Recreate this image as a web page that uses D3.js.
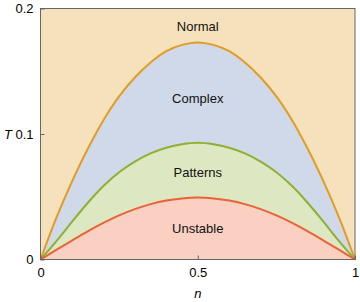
<!DOCTYPE html>
<html><head><meta charset="utf-8">
<script src="https://cdn.jsdelivr.net/npm/d3@7"></script>
<style>body{margin:0;background:#fff}svg{display:block}text{font-family:"Liberation Sans",Arial,sans-serif}</style>
</head><body>
<svg id="c" width="360" height="302"></svg>
<script>
const nVals = [0,0.05,0.1,0.15,0.2,0.25,0.3,0.35,0.4,0.45,0.5,0.55,0.6,0.65,0.7,0.75,0.8,0.85,0.9,0.95,1];
const normalBoundary = [0,0.033,0.062,0.088,0.111,0.130,0.145,0.157,0.166,0.171,0.173,0.171,0.166,0.157,0.145,0.130,0.111,0.088,0.062,0.033,0];
const patternsBoundary = [0,0.0145,0.030,0.045,0.0585,0.0695,0.078,0.0845,0.089,0.0918,0.093,0.0918,0.089,0.0845,0.078,0.0695,0.0585,0.045,0.030,0.0145,0];
const unstableBoundary = [0,0.0076,0.0151,0.0224,0.0291,0.0351,0.0401,0.0441,0.0470,0.0487,0.0495,0.0487,0.0470,0.0441,0.0401,0.0351,0.0291,0.0224,0.0151,0.0076,0];
const xTicks = [0,0.5,1];
const yTicks = [0,0.1,0.2];
const regionLabels = [
  {name:"Normal", n:0.5, T:0.1855},
  {name:"Complex", n:0.5, T:0.1285},
  {name:"Patterns", n:0.5, T:0.0695},
  {name:"Unstable", n:0.5, T:0.0245}
];

const svg = d3.select("#c");
const L=40.5, R=355, Tp=8.5, B=259.5;
const x = d3.scaleLinear().domain([0,1]).range([L,R]);
const y = d3.scaleLinear().domain([0,0.2]).range([B,Tp]);

const mk = arr => nVals.map((n,i)=>({n, T:arr[i]}));
const area = d3.area().x(d=>x(d.n)).y0(y(0)).y1(d=>y(d.T)).curve(d3.curveCatmullRom.alpha(0.5));
const line = d3.line().x(d=>x(d.n)).y(d=>y(d.T)).curve(d3.curveCatmullRom.alpha(0.5));

svg.append("rect").attr("x",L).attr("y",Tp).attr("width",R-L).attr("height",B-Tp).attr("fill","#f6e1bd");
const layers = [
  {data:normalBoundary, fill:"#cfd9e9", stroke:"#e19c24"},
  {data:patternsBoundary, fill:"#dde7c1", stroke:"#8fb032"},
  {data:unstableBoundary, fill:"#f9d0c2", stroke:"#eb6235"}
];
layers.forEach(l=>svg.append("path").datum(mk(l.data)).attr("d",area).attr("fill",l.fill));
layers.forEach(l=>svg.append("path").datum(mk(l.data)).attr("d",line).attr("fill","none").attr("stroke",l.stroke).attr("stroke-width",2));

svg.append("g").selectAll("text").data(regionLabels).join("text")
  .attr("x",d=>x(d.n)).attr("y",d=>y(d.T)).attr("text-anchor","middle").attr("dominant-baseline","central")
  .attr("font-size",13).attr("fill","#111").text(d=>d.name);

// frame
svg.append("rect").attr("x",L).attr("y",Tp).attr("width",R-L).attr("height",B-Tp).attr("fill","none").attr("stroke","#666").attr("stroke-width",1);

const xAxis = d3.axisBottom(x).tickValues(xTicks).tickSize(-4).tickPadding(8).tickFormat(d=>d===0.5?"0.5":d3.format("d")(d));
const gx = svg.append("g").attr("transform",`translate(0,${B})`).call(xAxis);
gx.select(".domain").remove();
gx.selectAll("line").attr("stroke","#666");
gx.selectAll("text").attr("font-size",13).attr("fill","#000").attr("font-family","Liberation Sans, Arial, sans-serif");

const yAxis = d3.axisLeft(y).tickValues(yTicks).tickSize(-4).tickPadding(7).tickFormat(d=>d===0?"0":d3.format(".1f")(d));
const gy = svg.append("g").attr("transform",`translate(${L},0)`).call(yAxis);
gy.select(".domain").remove();
gy.selectAll("line").attr("stroke","#666");
gy.selectAll("text").attr("font-size",13).attr("fill","#000").attr("font-family","Liberation Sans, Arial, sans-serif");

svg.append("text").attr("x",x(0.5)).attr("y",293).attr("text-anchor","middle").attr("dominant-baseline","central")
  .attr("font-size",13).attr("font-style","italic").text("n");
svg.append("text").attr("x",8).attr("y",y(0.1)).attr("text-anchor","middle").attr("dominant-baseline","central")
  .attr("font-size",13).attr("font-style","italic").text("T");
</script>
</body></html>
